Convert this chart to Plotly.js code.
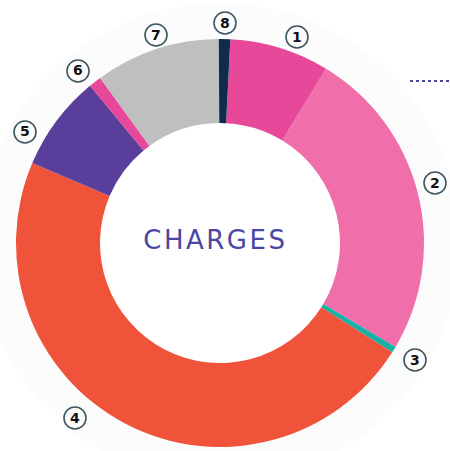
<!DOCTYPE html>
<html>
<head>
<meta charset="utf-8">
<script src="https://cdn.plot.ly/plotly-3.0.1.min.js"></script>
<style>html,body{margin:0;padding:0;background:#fff;}#chart{width:450px;height:451px;}</style>
</head>
<body>
<div id="chart"></div>
<script>
// Data
const categories = ['1', '2', '3', '4', '5', '6', '7', '8'];
const values = [7.9, 24.8, 0.5, 47.4, 7.6, 1.0, 9.9, 0.9];
const colors = ['#E8489A', '#F06EAA', '#13B1A6', '#EF533A', '#5A3E9C', '#E8489A', '#BFBFBF', '#0F2B4E'];
const centerLabel = 'CHARGES';

// Layout geometry (pixels)
const W = 450, H = 451;
const cx = 220, cy = 243, R = 204, holeR = 120, ringR = 240;
// label marker positions (pixels)
const labelPos = [[297, 37], [435, 183], [415, 360], [75, 418], [25, 132], [78, 71], [156, 35], [225, 23]];

const px = x => x / W;
const py = y => 1 - y / H;

const trace = {
  type: 'pie',
  values: values,
  labels: categories,
  marker: {colors: colors, line: {width: 0}},
  hole: holeR / R,
  sort: false,
  direction: 'clockwise',
  rotation: 2.9,
  textinfo: 'none',
  hoverinfo: 'none',
  showlegend: false,
  domain: {x: [px(cx - R), px(cx + R)], y: [py(cy + R), py(cy - R)]}
};

const shapes = [{
  type: 'circle', xref: 'paper', yref: 'paper', layer: 'below',
  x0: px(cx - ringR), x1: px(cx + ringR), y0: py(cy + ringR), y1: py(cy - ringR),
  fillcolor: '#fcfcfc', line: {width: 0}
}, {
  type: 'circle', xref: 'paper', yref: 'paper', layer: 'below',
  x0: px(cx - holeR - 2), x1: px(cx + holeR + 2), y0: py(cy + holeR + 2), y1: py(cy - holeR - 2),
  fillcolor: '#ffffff', line: {width: 0}
}, {
  type: 'line', xref: 'paper', yref: 'paper',
  x0: px(410), x1: px(450), y0: py(81), y1: py(81),
  line: {color: '#4A47A3', width: 2.2, dash: 'dot'}
}];
const annotations = [{
  text: centerLabel, xref: 'paper', yref: 'paper', x: px(215.5), y: py(240),
  showarrow: false, xanchor: 'center', yanchor: 'middle',
  font: {family: 'DejaVu Sans', size: 26, color: '#4A47A3', weight: 400}
}];
labelPos.forEach((p, i) => {
  shapes.push({
    type: 'circle', xref: 'paper', yref: 'paper',
    x0: px(p[0] - 11), x1: px(p[0] + 11), y0: py(p[1] + 11), y1: py(p[1] - 11),
    fillcolor: 'rgba(255,255,255,0)', line: {color: '#3E5560', width: 1.6}
  });
  annotations.push({
    text: '<b>' + categories[i] + '</b>', xref: 'paper', yref: 'paper',
    x: px(p[0]), y: py(p[1] - 0.5), showarrow: false, xanchor: 'center', yanchor: 'middle',
    font: {family: 'DejaVu Sans', size: 14, color: '#111'}
  });
});

Plotly.newPlot('chart', [trace], {
  width: W, height: H,
  margin: {l: 0, r: 0, t: 0, b: 0},
  paper_bgcolor: '#ffffff',
  shapes: shapes,
  annotations: annotations
}, {staticPlot: true}).then(gd => {
  const t = gd.querySelector('.annotation .annotation-text');
  if (t) t.style.letterSpacing = '2.5px';
});
</script>
</body>
</html>
